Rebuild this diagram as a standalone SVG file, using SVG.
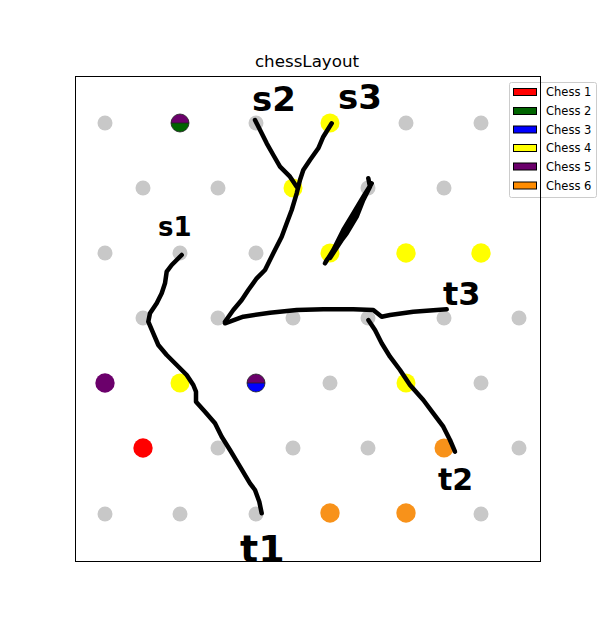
<svg xmlns="http://www.w3.org/2000/svg" width="600" height="630" viewBox="0 0 600 630">
<style>
.g{fill:#c8c8c8}
.y{fill:#ffff00}
.o{fill:#f8921a}
.r{fill:#ff0000}
.p{fill:#6b006b}
.st{fill:none;stroke:#000;stroke-width:4.5;stroke-linecap:round;stroke-linejoin:round}
.hw{font-family:"DejaVu Sans",sans-serif;font-weight:bold;fill:#000}
.lg{font-family:"DejaVu Sans",sans-serif;font-size:11.5px;fill:#000}
.pt{stroke:#000;stroke-width:1}
</style>
<rect width="600" height="630" fill="#fff"/>
<text x="307" y="67" text-anchor="middle" font-family="DejaVu Sans, sans-serif" font-size="16.7">chessLayout</text>
<g id="dots">
<g id="n00"><circle class="g" cx="105" cy="123" r="7.5"/></g>
<g id="n01"><path d="M171,123a9,9 0 0 1 18,0z" fill="#6b006b"/><path d="M171,123a9,9 0 0 0 18,0z" fill="#006400"/><circle cx="180" cy="123" r="9" fill="none" stroke="#222" stroke-width="0.8"/><line x1="171" y1="123" x2="189" y2="123" stroke="#222" stroke-width="0.8"/></g>
<g id="n02"><circle class="g" cx="256" cy="123" r="7.5"/></g>
<g id="n03"><circle class="y" cx="330" cy="123" r="9.5"/></g>
<g id="n04"><circle class="g" cx="406" cy="123" r="7.5"/></g>
<g id="n05"><circle class="g" cx="481" cy="123" r="7.5"/></g>
<g id="n10"><circle class="g" cx="143" cy="188" r="7.5"/></g>
<g id="n11"><circle class="g" cx="218" cy="188" r="7.5"/></g>
<g id="n12"><circle class="y" cx="293" cy="188" r="9.5"/></g>
<g id="n13"><circle class="g" cx="368" cy="188" r="7.5"/></g>
<g id="n14"><circle class="g" cx="444" cy="188" r="7.5"/></g>
<g id="n20"><circle class="g" cx="105" cy="253" r="7.5"/></g>
<g id="n21"><circle class="g" cx="180" cy="253" r="7.5"/></g>
<g id="n22"><circle class="g" cx="256" cy="253" r="7.5"/></g>
<g id="n23"><circle class="y" cx="330" cy="253" r="9.5"/></g>
<g id="n24"><circle class="y" cx="406" cy="253" r="9.7"/></g>
<g id="n25"><circle class="y" cx="481" cy="253" r="9.7"/></g>
<g id="n30"><circle class="g" cx="143" cy="318" r="7.5"/></g>
<g id="n31"><circle class="g" cx="218" cy="318" r="7.5"/></g>
<g id="n32"><circle class="g" cx="293" cy="318" r="7.5"/></g>
<g id="n33"><circle class="g" cx="368" cy="318" r="7.5"/></g>
<g id="n34"><circle class="g" cx="444" cy="318" r="7.5"/></g>
<g id="n35"><circle class="g" cx="519" cy="318" r="7.5"/></g>
<g id="n40"><circle class="p" cx="105" cy="383" r="9.7"/></g>
<g id="n41"><circle class="y" cx="180" cy="383" r="9.5"/></g>
<g id="n42"><path d="M247,383a9,9 0 0 1 18,0z" fill="#6b006b"/><path d="M247,383a9,9 0 0 0 18,0z" fill="#0000ff"/><circle cx="256" cy="383" r="9" fill="none" stroke="#222" stroke-width="0.8"/><line x1="247" y1="383" x2="265" y2="383" stroke="#222" stroke-width="0.8"/></g>
<g id="n43"><circle class="g" cx="330" cy="383" r="7.5"/></g>
<g id="n44"><circle class="y" cx="406" cy="383" r="9.5"/></g>
<g id="n45"><circle class="g" cx="481" cy="383" r="7.5"/></g>
<g id="n50"><circle class="r" cx="143" cy="448" r="9.7"/></g>
<g id="n51"><circle class="g" cx="218" cy="448" r="7.5"/></g>
<g id="n52"><circle class="g" cx="293" cy="448" r="7.5"/></g>
<g id="n53"><circle class="g" cx="368" cy="448" r="7.5"/></g>
<g id="n54"><circle class="o" cx="444" cy="448" r="9.5"/></g>
<g id="n55"><circle class="g" cx="519" cy="448" r="7.5"/></g>
<g id="n60"><circle class="g" cx="105" cy="514" r="7.5"/></g>
<g id="n61"><circle class="g" cx="180" cy="514" r="7.5"/></g>
<g id="n62"><circle class="g" cx="256" cy="514" r="7.5"/></g>
<g id="n63"><circle class="o" cx="330" cy="513" r="9.7"/></g>
<g id="n64"><circle class="o" cx="406" cy="513" r="9.7"/></g>
<g id="n65"><circle class="g" cx="481" cy="514" r="7.5"/></g>
</g>
<g id="connectors">
<polyline class="st" points="331.7,123.3 323.3,136.7 318.3,148.3 310,160 303.3,170 300,180 296.7,193.3 291.7,210 286.7,223.3 281.7,236.7 273.3,253.3 265,270 256.7,278.3 248.3,290 241.7,300 233.3,310 225,321.7"/>
<polyline class="st" points="255,120 261.7,133.3 266.7,143.3 273.3,155 280,166.7 290,176.7 296.7,186.7"/>
<polyline class="st" points="225,323.3 243.3,316.7 270,312.7 296.7,310 323.3,309.3 353.3,309.3 373.3,310 381.7,316.7 390,315 413.3,311.7 446.7,309.3"/>
<polyline class="st" points="368.3,320 375,330 381.7,343.3 390,356.7 400,370 410,385 423.3,400 433.3,413.3 443.3,426.7 450,440 455,451.7"/>
<polyline class="st" points="181.7,255 171.7,265 166.7,271.7 165,283.3 161.7,293.3 156.7,303.3 150,313.3 148.3,321.7 153.3,333.3 158.3,345 166.7,355 176.7,365 186.7,375 193.3,385 196,391.7 196,401.7 205,411.7 215,423.3 221.7,436.7 230,450 240,466.7 250,483.3 255,490 259.3,501.7 261.7,513.3"/>
<polyline class="st" points="368.3,178.3 370,186.7 363.3,200 356.7,216.7 346.7,233.3 336.7,246.7 326.7,260 325,263.3 333.3,250 343.3,230 353.3,213.3 363.3,196.7 371.7,183.3 360,205 345,235 330,258"/>
</g>
<g id="labels">
<text class="hw" x="252" y="111" font-size="34">s2</text>
<text class="hw" x="338" y="109" font-size="34">s3</text>
<text class="hw" x="158" y="236" font-size="26">s1</text>
<text class="hw" x="443" y="305" font-size="32">t3</text>
<text class="hw" x="438" y="490" font-size="30">t2</text>
<text class="hw" x="240" y="562" font-size="38">t1</text>
</g>
<g id="legend">
<rect x="509.5" y="82.5" width="87" height="115" rx="2" fill="#fff" fill-opacity="0.8" stroke="#ccc"/>
<rect class="pt" x="513.5" y="88.5" width="23" height="7" fill="#ff0000"/>
<rect class="pt" x="513.5" y="107.5" width="23" height="7" fill="#006400"/>
<rect class="pt" x="513.5" y="126" width="23" height="7" fill="#0000ff"/>
<rect class="pt" x="513.5" y="144.5" width="23" height="7" fill="#ffff00"/>
<rect class="pt" x="513.5" y="163" width="23" height="7" fill="#6b006b"/>
<rect class="pt" x="513.5" y="182" width="23" height="7" fill="#ff8c00"/>
<text class="lg" x="546" y="96">Chess 1</text>
<text class="lg" x="546" y="115">Chess 2</text>
<text class="lg" x="546" y="134">Chess 3</text>
<text class="lg" x="546" y="152">Chess 4</text>
<text class="lg" x="546" y="171">Chess 5</text>
<text class="lg" x="546" y="190">Chess 6</text>
</g>
<rect x="75.5" y="76.5" width="465" height="485" fill="none" stroke="#000" stroke-width="1"/>
</svg>
